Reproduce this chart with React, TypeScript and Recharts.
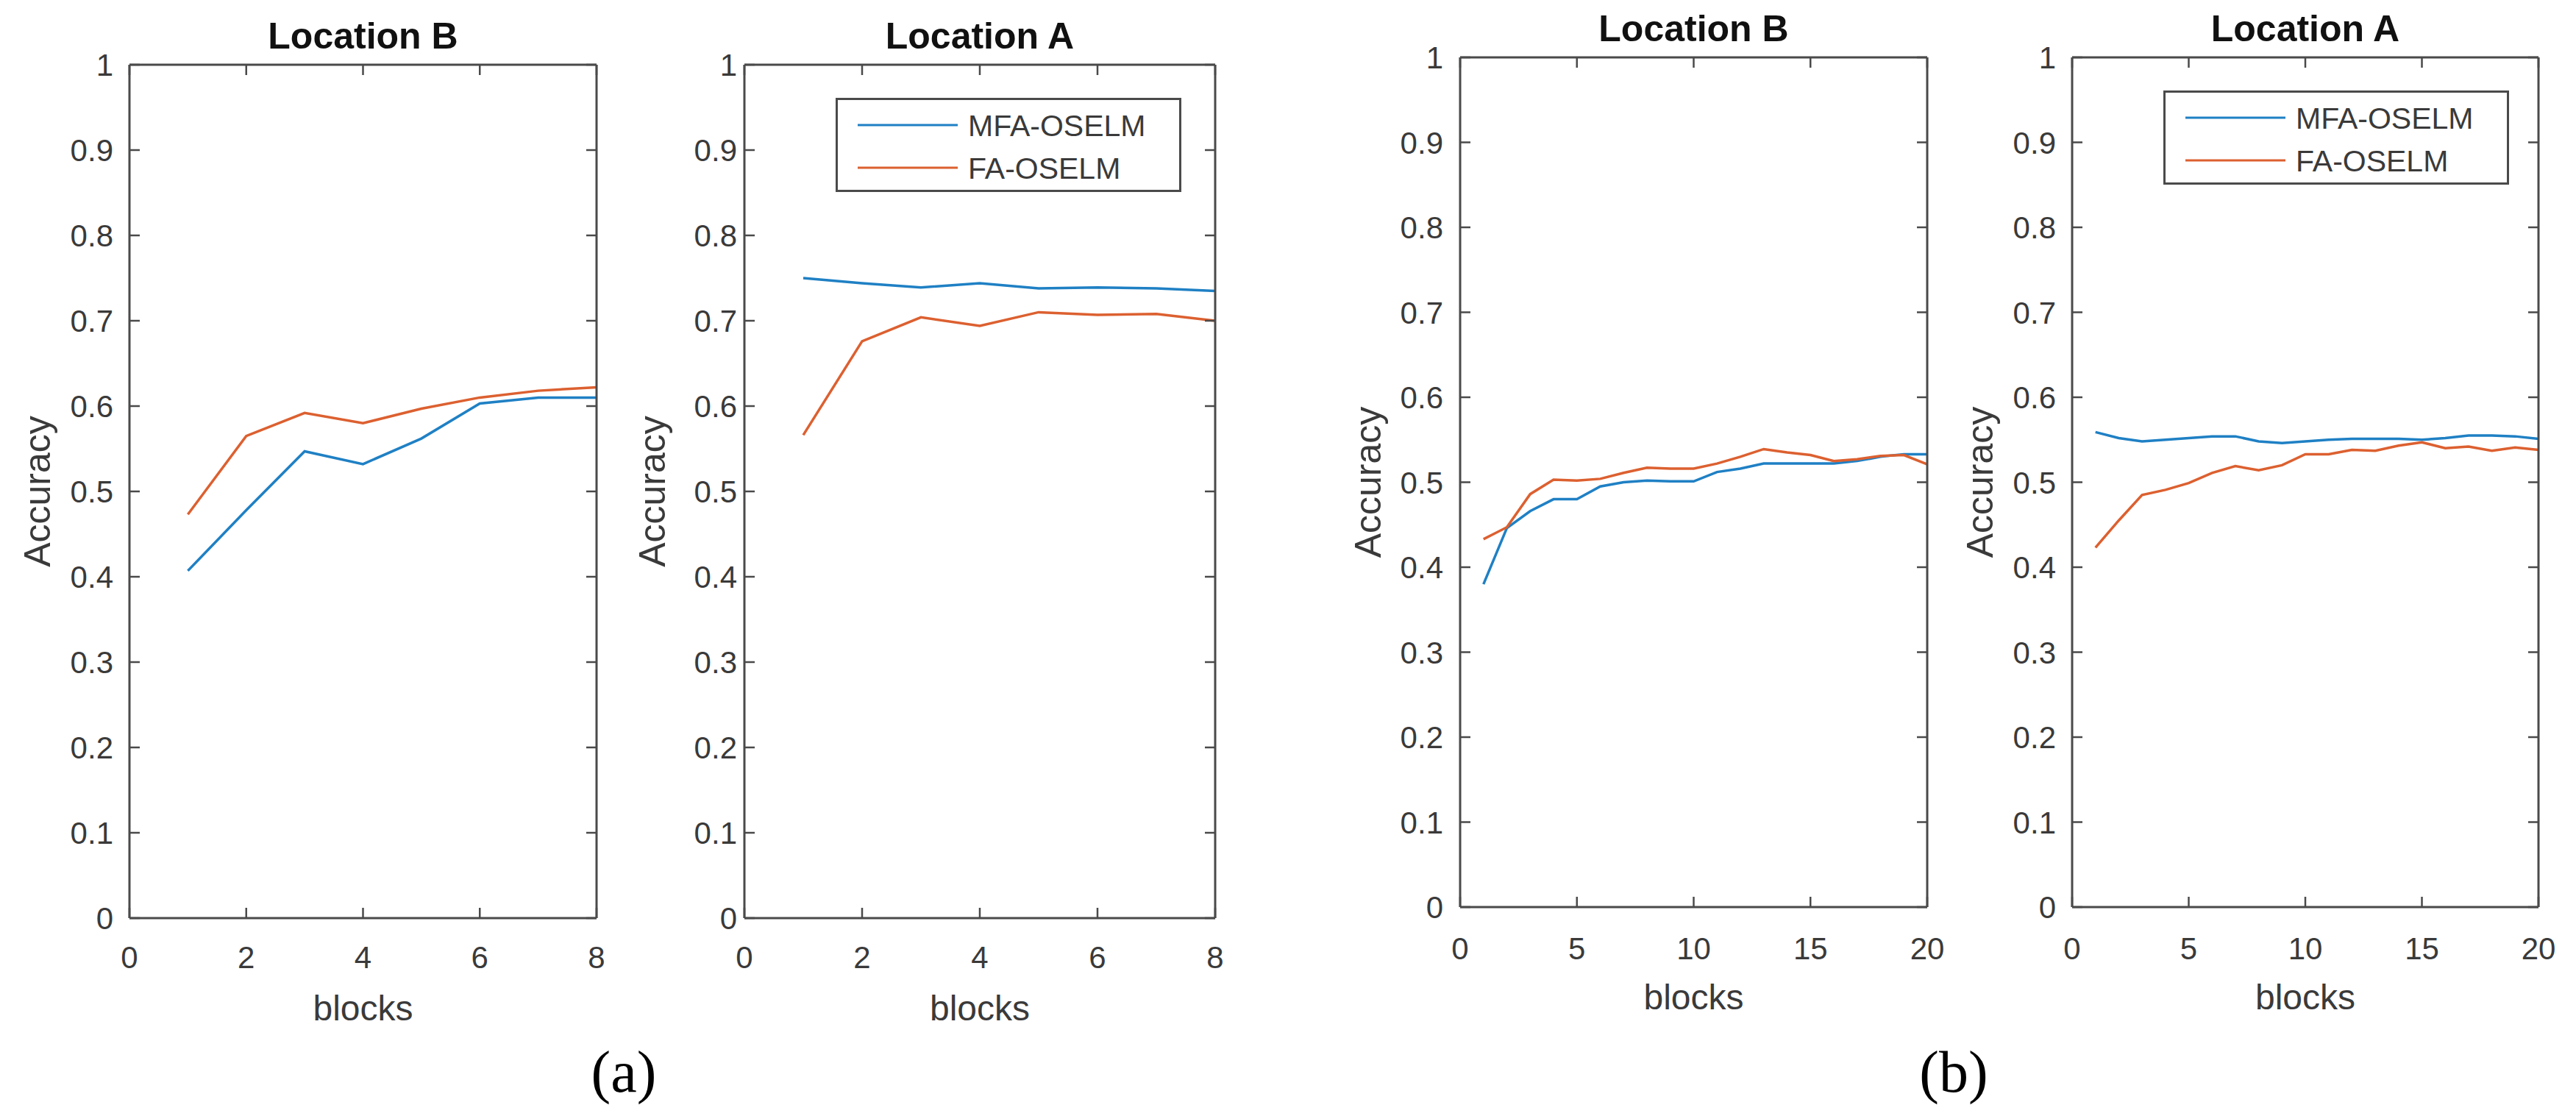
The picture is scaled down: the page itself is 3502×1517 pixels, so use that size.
import React from "react";
import { LineChart, Line, XAxis, YAxis, Legend } from "recharts";

// ---- data ----
const blocksA = [1, 2, 3, 4, 5, 6, 7, 8];
const blocksB = [1, 2, 3, 4, 5, 6, 7, 8, 9, 10, 11, 12, 13, 14, 15, 16, 17, 18, 19, 20];

const aLocB_MFA = [0.407, 0.478, 0.547, 0.532, 0.562, 0.603, 0.61, 0.61];
const aLocB_FA = [0.473, 0.565, 0.592, 0.58, 0.597, 0.61, 0.618, 0.622];

const aLocA_MFA = [0.75, 0.744, 0.739, 0.744, 0.738, 0.739, 0.738, 0.735];
const aLocA_FA = [0.566, 0.676, 0.704, 0.694, 0.71, 0.707, 0.708, 0.7];

const bLocB_MFA = [
  0.38, 0.446, 0.466, 0.48, 0.48, 0.495, 0.5, 0.502, 0.501, 0.501,
  0.512, 0.516, 0.522, 0.522, 0.522, 0.522, 0.525, 0.53, 0.533, 0.533,
];
const bLocB_FA = [
  0.433, 0.447, 0.486, 0.503, 0.502, 0.504, 0.511, 0.517, 0.516, 0.516,
  0.522, 0.53, 0.539, 0.535, 0.532, 0.525, 0.527, 0.531, 0.532, 0.521,
];

const bLocA_MFA = [
  0.559, 0.552, 0.548, 0.55, 0.552, 0.554, 0.554, 0.548, 0.546, 0.548,
  0.55, 0.551, 0.551, 0.551, 0.55, 0.552, 0.555, 0.555, 0.554, 0.551,
];
const bLocA_FA = [
  0.423, 0.455, 0.485, 0.491, 0.499, 0.511, 0.519, 0.514, 0.52, 0.533,
  0.533, 0.538, 0.537, 0.543, 0.547, 0.54, 0.542, 0.537, 0.541, 0.538,
];

const yTicks = [0, 0.1, 0.2, 0.3, 0.4, 0.5, 0.6, 0.7, 0.8, 0.9, 1];
const xTicksA = [0, 2, 4, 6, 8];
const xTicksB = [0, 5, 10, 15, 20];

const seriesNames = ["MFA-OSELM", "FA-OSELM"];
const xLabel = "blocks";
const yLabel = "Accuracy";

// ---- styling ----
const BLUE = "#1f80c4";
const ORANGE = "#dc6030";
const AXIS = "#4a4a4a";
const TEXT = "#3a3a3a";
const FONT = "'Liberation Sans', Arial, Helvetica, sans-serif";
const TICK = 14;
const PAGE_H = 1517;

const rows = (blocks: number[], mfa: number[], fa: number[]) =>
  blocks.map((b, i) => ({ block: b, mfa: mfa[i], fa: fa[i] }));

const bottomTick = (gap: number) => (p: any) => (
  <g>
    <line x1={p.x} y1={p.y} x2={p.x} y2={p.y - TICK} stroke={AXIS} strokeWidth={2.5} />
    <text x={p.x} y={p.y + gap} textAnchor="middle" fill={TEXT} fontSize={42}>
      {p.payload.value}
    </text>
  </g>
);
const leftTick = (gap: number) => (p: any) => (
  <g>
    <line x1={p.x} y1={p.y} x2={p.x + TICK} y2={p.y} stroke={AXIS} strokeWidth={2.5} />
    <text x={p.x - gap} y={p.y} dy="0.36em" textAnchor="end" fill={TEXT} fontSize={42}>
      {p.payload.value}
    </text>
  </g>
);
const topTick = (p: any) => (
  <line x1={p.x} y1={p.y} x2={p.x} y2={p.y + TICK} stroke={AXIS} strokeWidth={2.5} />
);
const rightTick = (p: any) => (
  <line x1={p.x} y1={p.y} x2={p.x - TICK} y2={p.y} stroke={AXIS} strokeWidth={2.5} />
);

function LegendBox({ payload }: any) {
  const items = seriesNames.map((n) => {
    const e = (payload || []).find((q: any) => q.value === n);
    return { name: n, color: e ? e.color : "#000" };
  });
  return (
    <svg width={470} height={128} style={{ display: "block", fontFamily: FONT }}>
      <rect x={1.5} y={1.5} width={467} height={125} fill="#fff" stroke={AXIS} strokeWidth={3} />
      {items.map((it, i) => (
        <g key={it.name}>
          <line x1={30} x2={166} y1={37 + 58 * i} y2={37 + 58 * i} stroke={it.color} strokeWidth={3} />
          <text x={180} y={37 + 58 * i} dy="0.36em" fontSize={41} fill={TEXT}>
            {it.name}
          </text>
        </g>
      ))}
    </svg>
  );
}

type PanelProps = {
  title: string;
  left: number;
  plotW: number;
  plotTop: number;
  plotBottom: number;
  data: any[];
  xMax: number;
  xTicks: number[];
  yGap: number;
  xGap: number;
  legend?: boolean;
};

function Panel(p: PanelProps) {
  const width = 176 + p.plotW + 40;
  const bottomH = PAGE_H - 10 - p.plotBottom;
  return (
    <div style={{ position: "absolute", left: p.left, top: 0 }}>
      <LineChart
        width={width}
        height={PAGE_H}
        data={p.data}
        margin={{ top: p.plotTop - 1, right: 39, bottom: 10, left: 0 }}
        style={{ fontFamily: FONT }}
      >
        <XAxis
          dataKey="block"
          type="number"
          domain={[0, p.xMax]}
          ticks={p.xTicks}
          interval={0}
          allowDataOverflow
          height={bottomH}
          tickSize={0}
          tickMargin={0}
          tickLine={false}
          axisLine={{ stroke: AXIS, strokeWidth: 3 }}
          tick={bottomTick(p.xGap)}
          label={{
            content: (lp: any) => {
              const vb = lp.viewBox;
              return (
                <text x={vb.x + vb.width / 2} y={vb.y + 139} textAnchor="middle" fontSize={48} fill={TEXT}>
                  {xLabel}
                </text>
              );
            },
          }}
        />
        <XAxis
          xAxisId="top"
          orientation="top"
          dataKey="block"
          type="number"
          domain={[0, p.xMax]}
          ticks={p.xTicks}
          interval={0}
          allowDataOverflow
          height={1}
          tickSize={0}
          tickMargin={0}
          tickLine={false}
          axisLine={{ stroke: AXIS, strokeWidth: 3 }}
          tick={topTick}
          label={{
            content: (lp: any) => {
              const vb = lp.viewBox;
              return (
                <text
                  x={vb.x + vb.width / 2}
                  y={vb.y + vb.height - 22}
                  textAnchor="middle"
                  fontSize={50}
                  fontWeight="bold"
                  fill="#111"
                >
                  {p.title}
                </text>
              );
            },
          }}
        />
        <YAxis
          type="number"
          domain={[0, 1]}
          ticks={yTicks}
          interval={0}
          allowDataOverflow
          width={176}
          tickSize={0}
          tickMargin={0}
          tickLine={false}
          axisLine={{ stroke: AXIS, strokeWidth: 3 }}
          tick={leftTick(p.yGap)}
          label={{
            content: (lp: any) => {
              const vb = lp.viewBox;
              const cx = vb.x + vb.width - 125;
              const cy = vb.y + vb.height / 2;
              return (
                <text
                  x={cx}
                  y={cy}
                  transform={`rotate(-90 ${cx} ${cy})`}
                  textAnchor="middle"
                  dominantBaseline="central"
                  fontSize={50}
                  fill={TEXT}
                >
                  {yLabel}
                </text>
              );
            },
          }}
        />
        <YAxis
          yAxisId="right"
          orientation="right"
          type="number"
          domain={[0, 1]}
          ticks={yTicks}
          interval={0}
          allowDataOverflow
          width={1}
          tickSize={0}
          tickMargin={0}
          tickLine={false}
          axisLine={{ stroke: AXIS, strokeWidth: 3 }}
          tick={rightTick}
        />
        <Line
          type="linear"
          dataKey="mfa"
          name={seriesNames[0]}
          stroke={BLUE}
          strokeWidth={3.5}
          dot={false}
          isAnimationActive={false}
        />
        <Line
          type="linear"
          dataKey="fa"
          name={seriesNames[1]}
          stroke={ORANGE}
          strokeWidth={3.5}
          dot={false}
          isAnimationActive={false}
        />
        {p.legend && (
          <Legend
            layout="vertical"
            align="center"
            verticalAlign="middle"
            width={470}
            height={128}
            wrapperStyle={{ left: 176 + 124, top: p.plotTop + 45, width: 470, height: 128 }}
            content={LegendBox}
          />
        )}
      </LineChart>
    </div>
  );
}

export default function App() {
  return (
    <div
      style={{
        position: "absolute",
        left: 0,
        top: 0,
        width: 3502,
        height: PAGE_H,
        background: "#fff",
        overflow: "hidden",
        fontFamily: FONT,
      }}
    >
      <Panel
        title="Location B"
        left={0}
        plotW={635}
        plotTop={88}
        plotBottom={1248}
        data={rows(blocksA, aLocB_MFA, aLocB_FA)}
        xMax={8}
        xTicks={xTicksA}
        yGap={22}
        xGap={68}
      />
      <Panel
        title="Location A"
        left={1012 - 176}
        plotW={640}
        plotTop={88}
        plotBottom={1248}
        data={rows(blocksA, aLocA_MFA, aLocA_FA)}
        xMax={8}
        xTicks={xTicksA}
        yGap={10}
        xGap={68}
        legend
      />
      <Panel
        title="Location B"
        left={1985 - 176}
        plotW={635}
        plotTop={78}
        plotBottom={1233}
        data={rows(blocksB, bLocB_MFA, bLocB_FA)}
        xMax={20}
        xTicks={xTicksB}
        yGap={23}
        xGap={71}
      />
      <Panel
        title="Location A"
        left={2817 - 176}
        plotW={634}
        plotTop={78}
        plotBottom={1233}
        data={rows(blocksB, bLocA_MFA, bLocA_FA)}
        xMax={20}
        xTicks={xTicksB}
        yGap={22}
        xGap={71}
        legend
      />
      <svg
        width={3502}
        height={PAGE_H}
        style={{ position: "absolute", left: 0, top: 0, pointerEvents: "none" }}
      >
        <text x={848} y={1484} textAnchor="middle" fontSize={80} fontFamily="'Liberation Serif', 'Times New Roman', serif" fill="#000">
          (a)
        </text>
        <text x={2656} y={1484} textAnchor="middle" fontSize={80} fontFamily="'Liberation Serif', 'Times New Roman', serif" fill="#000">
          (b)
        </text>
      </svg>
    </div>
  );
}
